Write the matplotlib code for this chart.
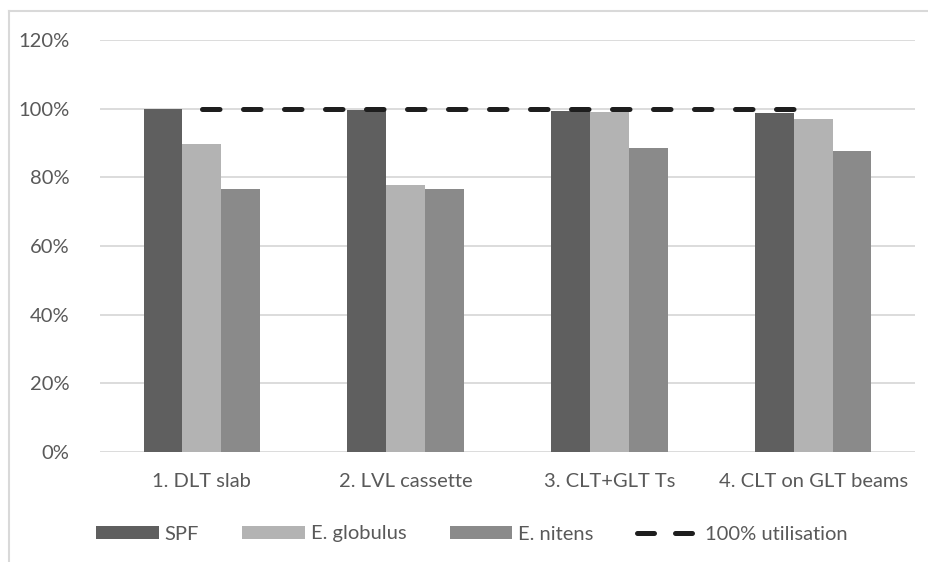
import numpy as np
import matplotlib.pyplot as plt
from matplotlib.lines import Line2D
from matplotlib.patches import Patch
from matplotlib.ticker import FuncFormatter

plt.rcParams['font.family'] = ['Lato', 'DejaVu Sans']

# utilisation ratio per floor system (%)
systems = ['1. DLT slab', '2. LVL cassette', '3. CLT+GLT Ts', '4. CLT on GLT beams']
spf = [100.0, 99.6, 99.2, 98.6]
globulus = [89.7, 77.9, 98.9, 96.9]
nitens = [76.5, 76.5, 88.4, 87.6]
limit = [100, 100, 100, 100]

series_names = ['SPF', 'E. globulus', 'E. nitens']
series_colors = ['#5f5f5f', '#b3b3b3', '#8a8a8a']
txt = '#595959'
fs = 14.5

W, H = 929, 562
fig = plt.figure(figsize=(W / 100, H / 100), dpi=100)
ax = fig.add_axes([100 / W, 1 - 452 / H, 815 / W, 412 / H])

x = np.arange(len(systems))
bw = 0.191
for i, (vals, col) in enumerate(zip([spf, globulus, nitens], series_colors)):
    ax.bar(x + (i - 1) * bw, vals, width=bw, color=col, zorder=2)

ax.plot(x, limit, color='#1e1e1e', lw=3.6, linestyle=(0, (3.5, 4.7)),
        dash_capstyle='round', zorder=3)

ax.set_xlim(-0.5, len(systems) - 0.5)
ax.set_ylim(0, 120)
ax.set_yticks(range(0, 121, 20))
ax.yaxis.set_major_formatter(FuncFormatter(lambda v, p: f'{v:.0f}%'))
ax.set_xticks(x)
ax.set_xticklabels(systems)
ax.grid(axis='y', color='#d9d9d9', lw=1.3, zorder=0)
for s in ax.spines.values():
    s.set_visible(False)
ax.tick_params(axis='both', length=0, labelsize=fs, colors=txt)
ax.tick_params(axis='y', pad=22)
ax.tick_params(axis='x', pad=15)

# legend along the bottom
handles = [Patch(facecolor=c, edgecolor='none') for c in series_colors]
handles.append(Line2D([0], [0], color='#1e1e1e', lw=3.6, linestyle=(0, (3.4, 4.2)),
                      dash_capstyle='round'))
leg = fig.legend(handles, series_names + ['100% utilisation'], loc='center left',
                 bbox_to_anchor=(78 / W, 1 - 534 / H), ncol=4, frameon=False,
                 fontsize=fs, handlelength=3.1, handleheight=0.6,
                 handletextpad=0.3, columnspacing=2.15, labelcolor=txt)

# chart frame
fig.add_artist(Line2D([9 / W, 9 / W], [0, 1 - 11 / H], color='#d9d9d9', lw=1.5))
fig.add_artist(Line2D([9 / W, 1], [1 - 11 / H, 1 - 11 / H], color='#d9d9d9', lw=1.5))

fig.savefig('out.png', dpi=100, facecolor='white')
